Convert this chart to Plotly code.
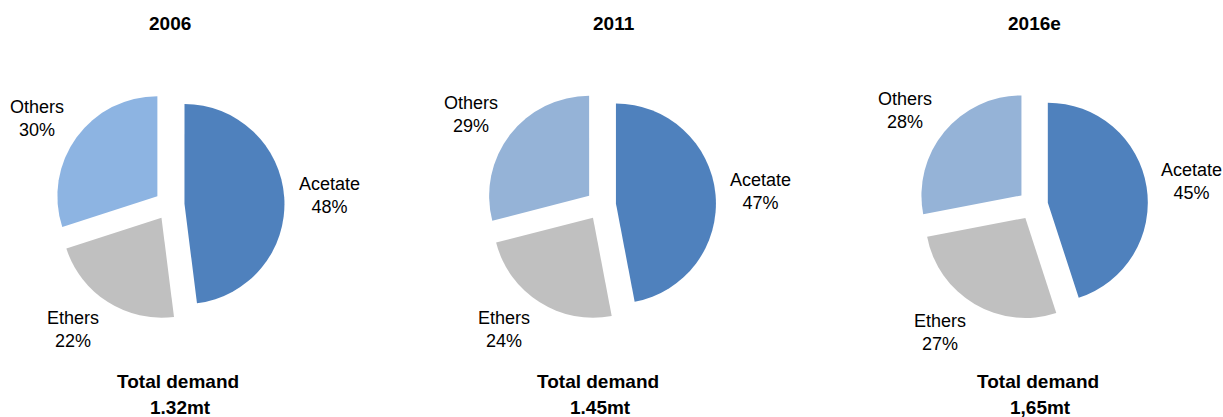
import math
import plotly.graph_objects as go

years = ["2006", "2011", "2016e"]
categories = ["Acetate", "Ethers", "Others"]
shares_2006 = [48, 22, 30]
shares_2011 = [47, 24, 29]
shares_2016 = [45, 27, 28]
totals = ["1.32mt", "1.45mt", "1,65mt"]

series = [shares_2006, shares_2011, shares_2016]
colors = [
    ["#4F81BD", "#C0C0C0", "#8DB4E2"],
    ["#4F81BD", "#C0C0C0", "#95B3D7"],
    ["#4F81BD", "#C0C0C0", "#95B3D7"],
]

W, H = 1223, 417
centers_x = [169.5, 601, 1033]
title_x = [170, 614, 1034.5]
bottom_x = [178, 598, 1038]
box_w = 300
top_px, bot_px = 90, 320
pull = 0.15
label_gap = 13
label_half_h = 20

label_font = dict(family="Liberation Sans, Arial, sans-serif", size=18, color="#000000")
bold_font = dict(family="Liberation Sans, Arial, sans-serif", size=19, color="#000000")

fig = go.Figure()
annotations = []
box_h = bot_px - top_px
cy = (top_px + bot_px) / 2
radius = min(box_w, box_h) / (2 * (1 + pull))

for i, vals in enumerate(series):
    cx = centers_x[i]
    fig.add_trace(go.Pie(
        labels=categories,
        values=vals,
        sort=False,
        direction="clockwise",
        rotation=0,
        pull=[pull] * len(vals),
        marker=dict(colors=colors[i], line=dict(width=0)),
        textinfo="none",
        textposition="none",
        hoverinfo="skip",
        showlegend=False,
        automargin=False,
        domain=dict(x=[(cx - box_w / 2) / W, (cx + box_w / 2) / W],
                    y=[1 - bot_px / H, 1 - top_px / H]),
    ))
    # data labels placed along each slice's bisector (Excel-style outside end)
    total = sum(vals)
    cum = 0
    for lab, v in zip(categories, vals):
        mid = (cum + v / 2) / total * 2 * math.pi
        cum += v
        dx, dy = math.sin(mid), -math.cos(mid)
        d = radius * (1 + pull) + label_gap
        px, py = cx + d * dx, cy + d * dy
        xa = "center" if abs(dx) < 0.3 else ("left" if dx > 0 else "right")
        annotations.append(dict(
            x=px / W, y=1 - py / H, xref="paper", yref="paper",
            text="%s<br>%d%%" % (lab, round(v / total * 100)),
            showarrow=False, font=label_font, align="center",
            xanchor=xa, yanchor="middle", yshift=-label_half_h * dy,
        ))

for i in range(3):
    annotations.append(dict(x=title_x[i] / W, y=1 - 23.5 / H, xref="paper", yref="paper",
                            text="<b>%s</b>" % years[i], showarrow=False, font=bold_font,
                            xanchor="center", yanchor="middle"))
    annotations.append(dict(x=bottom_x[i] / W, y=1 - 381 / H, xref="paper", yref="paper",
                            text="<b>Total demand</b>", showarrow=False, font=bold_font,
                            xanchor="center", yanchor="middle"))
    annotations.append(dict(x=(bottom_x[i] + 2) / W, y=1 - 407 / H, xref="paper", yref="paper",
                            text="<b>%s</b>" % totals[i], showarrow=False, font=bold_font,
                            xanchor="center", yanchor="middle"))

fig.update_layout(
    width=W, height=H,
    margin=dict(l=0, r=0, t=0, b=0, pad=0, autoexpand=False),
    showlegend=False,
    paper_bgcolor="white", plot_bgcolor="white",
    annotations=annotations,
)

fig.write_html("out.html")
